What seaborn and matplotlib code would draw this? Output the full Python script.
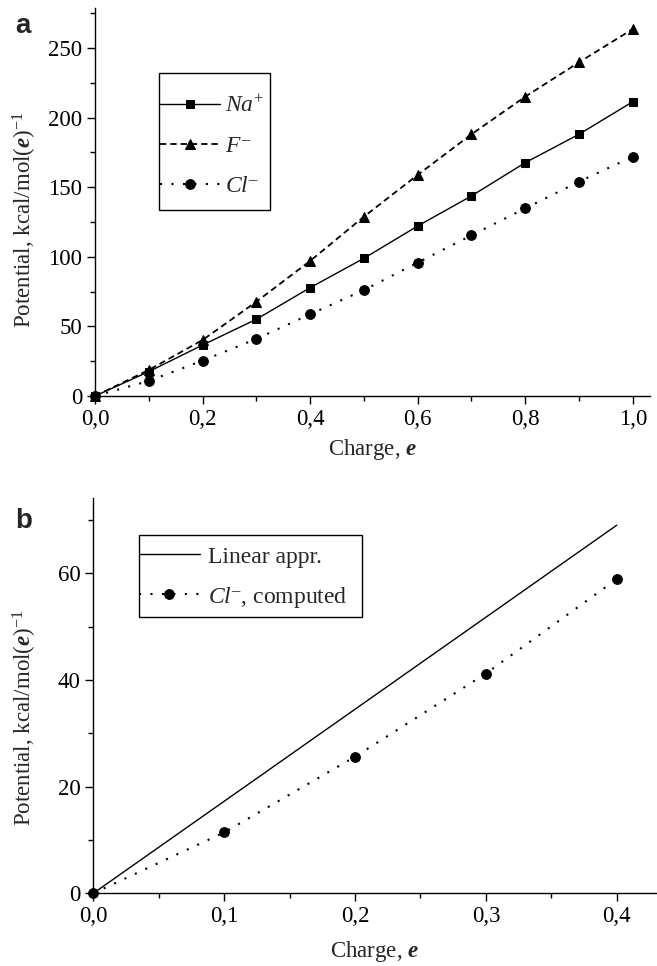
import numpy as np
import pandas as pd
import seaborn as sns
import matplotlib
matplotlib.use('Agg')
import matplotlib.pyplot as plt
from matplotlib.patches import Rectangle
from matplotlib.ticker import MultipleLocator, FuncFormatter

# values
charge = [0.0, 0.1, 0.2, 0.3, 0.4, 0.5, 0.6, 0.7, 0.8, 0.9, 1.0]
na_pot = [0.0, 17.5, 36.6, 55.1, 77.8, 98.9, 122.1, 143.7, 167.6, 188.0, 211.4]
f_pot = [0.0, 18.7, 40.2, 67.7, 97.0, 128.8, 158.8, 188.0, 215.0, 239.7, 263.6]
cl_pot = [0.0, 10.8, 25.4, 41.0, 58.7, 76.1, 95.8, 115.4, 134.8, 154.0, 171.9]

charge_b = [0.0, 0.1, 0.2, 0.3, 0.4]
cl_pot_b = [0.0, 11.4, 25.6, 41.2, 58.9]
lin_x = [0.0, 0.4]
lin_y = [0.0, 69.0]

sns.set_style("ticks")
plt.rcParams['font.family'] = ['Liberation Serif', 'DejaVu Serif']
plt.rcParams['mathtext.fontset'] = 'custom'
plt.rcParams['mathtext.rm'] = 'Liberation Serif'
plt.rcParams['mathtext.it'] = 'Liberation Serif:italic'
plt.rcParams['mathtext.bf'] = 'Liberation Serif:italic:bold'
plt.rcParams['font.size'] = 16
plt.rcParams['xtick.labelsize'] = 16.5
plt.rcParams['ytick.labelsize'] = 16.5
plt.rcParams['axes.labelsize'] = 16.5
plt.rcParams['axes.linewidth'] = 1.0
plt.rcParams['xtick.major.size'] = 6
plt.rcParams['ytick.major.size'] = 6
plt.rcParams['xtick.minor.size'] = 3.5
plt.rcParams['ytick.minor.size'] = 3.5
plt.rcParams['xtick.major.width'] = 1.0
plt.rcParams['ytick.major.width'] = 1.0
plt.rcParams['xtick.minor.width'] = 1.0
plt.rcParams['ytick.minor.width'] = 1.0
plt.rcParams['xtick.major.pad'] = 3.5
plt.rcParams['ytick.major.pad'] = 3
plt.rcParams['xtick.color'] = 'black'
plt.rcParams['ytick.color'] = 'black'
plt.rcParams['axes.edgecolor'] = 'black'

fig = plt.figure(figsize=(6.57, 9.66), dpi=100)
ax1 = fig.add_axes([95 / 657, 1 - 396 / 966, (650 - 95) / 657, (396 - 8) / 966])
ax2 = fig.add_axes([93.3 / 657, 1 - 893.3 / 966, (656 - 93.3) / 657, (893.3 - 498) / 966])

comma = FuncFormatter(lambda v, p: ('%.1f' % v).replace('.', ','))


def box(ax, x0, y0, x1, y1):
    # legend frame, in pixels of the 657x966 figure
    ax.add_patch(Rectangle((x0 / 657, 1 - y1 / 966), (x1 - x0) / 657, (y1 - y0) / 966,
                           transform=fig.transFigure, fill=True, fc='white',
                           ec='black', lw=1.0, zorder=4, clip_on=False))


df_a = pd.DataFrame({'charge': charge, 'na': na_pot, 'f': f_pot, 'cl': cl_pot})

sns.lineplot(data=df_a, x='charge', y='na', ax=ax1, color='black', lw=1.0,
             marker='s', ms=6, mec='black', label='$Na^{+}$')
sns.lineplot(data=df_a, x='charge', y='f', ax=ax1, color='black', lw=1.3,
             marker='^', ms=7, mec='black', label='$F^{\u2013}$')
sns.lineplot(data=df_a, x='charge', y='cl', ax=ax1, color='black', lw=1.5,
             marker='o', ms=7, mec='black', label='$Cl^{\u2013}$')
lines = ax1.get_lines()
lines[1].set_dashes((3.5, 2.2))
lines[2].set_dashes((1, 4.5))

ax1.set_xlim(0, 1.032)
ax1.set_ylim(0, 278.7)
ax1.xaxis.set_major_locator(MultipleLocator(0.2))
ax1.xaxis.set_minor_locator(MultipleLocator(0.1))
ax1.yaxis.set_major_locator(MultipleLocator(50))
ax1.yaxis.set_minor_locator(MultipleLocator(25))
ax1.xaxis.set_major_formatter(comma)
ax1.set_xlabel(r'Charge, $\mathbf{e}$', labelpad=5)
ax1.set_ylabel(r'Potential, kcal/mol($\mathbf{e}$)$^{-1}$')
ax1.yaxis.set_label_coords(-0.101, 0.454)
sns.despine(ax=ax1)
for ln in lines:
    ln.set_clip_on(False)
box(ax1, 159, 73, 270, 210)
leg1 = ax1.legend(loc='center left', bbox_to_anchor=(160 / 657, 1 - 146.5 / 966),
                  bbox_transform=fig.transFigure, borderaxespad=0, borderpad=0,
                  frameon=False, handlelength=2.54, handletextpad=0.21,
                  labelspacing=0.78, fontsize=17)
leg1.set_zorder(5)

df_b = pd.DataFrame({'charge': charge_b, 'cl': cl_pot_b})
df_lin = pd.DataFrame({'charge': lin_x, 'pot': lin_y})
sns.lineplot(data=df_lin, x='charge', y='pot', ax=ax2, color='black', lw=1.0,
             label='Linear appr.')
sns.lineplot(data=df_b, x='charge', y='cl', ax=ax2, color='black', lw=1.5,
             marker='o', ms=7, mec='black', label='$Cl^{\u2013}$, computed')
lines2 = ax2.get_lines()
lines2[1].set_dashes((1, 4.5))
for ln in lines2:
    ln.set_clip_on(False)

ax2.set_xlim(0, 0.43)
ax2.set_ylim(0, 74.1)
ax2.xaxis.set_major_locator(MultipleLocator(0.1))
ax2.xaxis.set_minor_locator(MultipleLocator(0.05))
ax2.yaxis.set_major_locator(MultipleLocator(20))
ax2.yaxis.set_minor_locator(MultipleLocator(10))
ax2.xaxis.set_major_formatter(comma)
ax2.set_xlabel(r'Charge, $\mathbf{e}$', labelpad=8)
ax2.set_ylabel(r'Potential, kcal/mol($\mathbf{e}$)$^{-1}$')
ax2.yaxis.set_label_coords(-0.0965, 0.443)
sns.despine(ax=ax2)
box(ax2, 139, 535, 362, 617)
leg2 = ax2.legend(loc='center left', bbox_to_anchor=(139 / 657, 1 - 578 / 966),
                  bbox_transform=fig.transFigure, borderaxespad=0, borderpad=0,
                  frameon=False, handlelength=2.58, handletextpad=0.34,
                  labelspacing=0.72, fontsize=17)
leg2.set_zorder(5)

fig.text(15 / 657, 1 - 33 / 966, 'a', family='Liberation Sans', weight='bold', fontsize=20)
fig.text(15 / 657, 1 - 528 / 966, 'b', family='Liberation Sans', weight='bold', fontsize=20)

fig.savefig('out.png', dpi=100)
